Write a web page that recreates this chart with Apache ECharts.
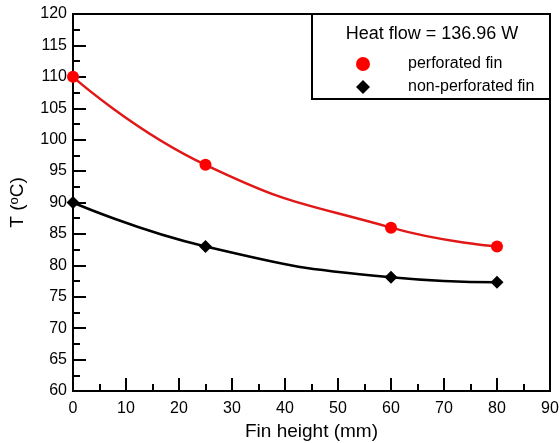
<!DOCTYPE html>
<html lang="en">
<head>
    <meta charset="UTF-8">
    <title>Fin temperature</title>
    <script src="https://cdn.jsdelivr.net/npm/echarts@6/dist/echarts.min.js"></script>
</head>
<body style="margin:0;background:#fff;">
<div id="main" style="width:560px;height:443px;"></div>
<script type="text/javascript">
    // fin heights (mm) and measured base temperatures (oC)
    var finHeight = [0, 25, 60, 80];
    var perforated = [110, 96, 86, 83];
    var nonPerforated = [90, 83, 78.1, 77.3];
    var seriesNames = ['perforated fin', 'non-perforated fin'];
    var heatFlowText = 'Heat flow = 136.96 W';

    function pairs(xs, ys) {
        var out = [];
        for (var i = 0; i < xs.length; ++i)
            out.push([xs[i], ys[i]]);
        return out;
    }

    var font = 'Liberation Sans, Arial, sans-serif';
    var myChart = echarts.init(document.getElementById('main'));
    var option = {
        animation: false,
        backgroundColor: '#fff',
        textStyle: { fontFamily: font },
        grid: {
            left: 73, right: 10, top: 14, bottom: 52,
            outerBoundsMode: 'none',
            containLabel: false,
            show: true, borderColor: '#000', borderWidth: 2
        },
        xAxis: {
            type: 'value',
            min: 0, max: 90, interval: 10,
            name: 'Fin height (mm)',
            nameLocation: 'middle',
            nameGap: 31,
            nameTextStyle: { fontSize: 19, color: '#000', fontFamily: font },
            axisLine: { lineStyle: { color: '#000', width: 2 } },
            axisTick: { inside: true, length: 13, lineStyle: { color: '#000', width: 2 } },
            minorTick: { show: true, splitNumber: 2, length: 7, lineStyle: { color: '#000', width: 2 } },
            axisLabel: { fontSize: 16, color: '#000', margin: 10, fontFamily: font },
            splitLine: { show: false }
        },
        yAxis: {
            type: 'value',
            min: 60, max: 120, interval: 5,
            name: 'T ({sup|o}C)',
            nameLocation: 'middle',
            nameGap: 46,
            nameRotate: 90,
            nameTextStyle: {
                fontSize: 19, color: '#000', fontFamily: font,
                rich: { sup: { fontSize: 13, verticalAlign: 'top', padding: [0, 0, 6, 0], color: '#000', fontFamily: font } }
            },
            axisLine: { lineStyle: { color: '#000', width: 2 } },
            axisTick: { inside: true, length: 13, lineStyle: { color: '#000', width: 2 } },
            minorTick: { show: true, splitNumber: 2, length: 7, lineStyle: { color: '#000', width: 2 } },
            axisLabel: { fontSize: 16, color: '#000', margin: 6, fontFamily: font },
            splitLine: { show: false }
        },
        graphic: [
            {
                type: 'rect',
                shape: { x: 312, y: 14, width: 238, height: 85 },
                style: { fill: '#fff', stroke: '#000', lineWidth: 2 },
                z: 10
            },
            {
                type: 'text',
                x: 432, y: 34,
                style: {
                    text: heatFlowText, fontSize: 18, fill: '#000', fontFamily: font,
                    align: 'center', verticalAlign: 'middle'
                },
                z: 11
            }
        ],
        legend: {
            orient: 'vertical',
            left: 351, top: 51,
            itemWidth: 14, itemHeight: 14,
            itemGap: 7,
            z: 12,
            selectedMode: false,
            data: [
                { name: seriesNames[0], icon: 'circle', itemStyle: { color: '#ff0000' } },
                { name: seriesNames[1], icon: 'diamond', itemStyle: { color: '#000' } }
            ],
            formatter: function (name) { return '{pad|}' + name; },
            textStyle: {
                fontSize: 16, color: '#000', fontFamily: font,
                rich: { pad: { width: 33 } }
            }
        },
        series: [
            {
                name: seriesNames[0],
                type: 'line',
                smooth: 0.5,
                data: pairs(finHeight, perforated),
                symbol: 'circle',
                symbolSize: 12,
                itemStyle: { color: '#ff0000' },
                lineStyle: { color: '#e01818', width: 2.5 }
            },
            {
                name: seriesNames[1],
                type: 'line',
                smooth: 0.5,
                data: pairs(finHeight, nonPerforated),
                symbol: 'diamond',
                symbolSize: 13,
                itemStyle: { color: '#000' },
                lineStyle: { color: '#000', width: 2.5 }
            }
        ]
    };
    myChart.setOption(option);
</script>
</body>
</html>
